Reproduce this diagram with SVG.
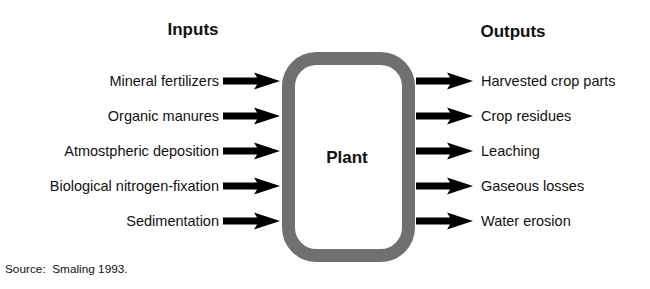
<svg xmlns="http://www.w3.org/2000/svg" xmlns:xlink="http://www.w3.org/1999/xlink" width="650" height="289" viewBox="0 0 650 289">
<style>
.lbl{font-family:"Liberation Sans",Arial,sans-serif;font-size:14.5px;fill:#111}
.in{text-anchor:end}
.ttl{font-family:"Liberation Sans",Arial,sans-serif;font-size:17px;font-weight:bold;fill:#111;text-anchor:middle}
.src{font-family:"Liberation Sans",Arial,sans-serif;font-size:11.8px;fill:#111}
.arr{fill:#000}
</style>
<defs>
<path id="arr" d="M0,-3.5 H34 L31,-8.5 L57,0 L31,8.5 L34,3.5 H0 Z"/>
</defs>
<rect width="650" height="289" fill="#fff"/>
<text class="ttl" x="193" y="35">Inputs</text>
<text class="ttl" x="513" y="37">Outputs</text>
<g id="plant">
<rect x="288.5" y="58.5" width="120" height="197" rx="28" ry="28" fill="none" stroke="#707070" stroke-width="13"/>
<text class="ttl" x="347" y="163">Plant</text>
</g>
<g id="inputs">
<text class="lbl in" x="219" y="86">Mineral fertilizers</text>
<text class="lbl in" x="219" y="121">Organic manures</text>
<text class="lbl in" x="219" y="156">Atmostpheric deposition</text>
<text class="lbl in" x="219" y="191">Biological nitrogen-fixation</text>
<text class="lbl in" x="219" y="226">Sedimentation</text>
</g>
<g id="outputs">
<text class="lbl" x="481" y="86">Harvested crop parts</text>
<text class="lbl" x="481" y="121">Crop residues</text>
<text class="lbl" x="481" y="156">Leaching</text>
<text class="lbl" x="481" y="191">Gaseous losses</text>
<text class="lbl" x="481" y="226">Water erosion</text>
</g>
<g id="connectors" class="arr">
<use xlink:href="#arr" x="223" y="81"/>
<use xlink:href="#arr" x="223" y="116"/>
<use xlink:href="#arr" x="223" y="151"/>
<use xlink:href="#arr" x="223" y="186"/>
<use xlink:href="#arr" x="223" y="221"/>
<use xlink:href="#arr" x="416" y="81"/>
<use xlink:href="#arr" x="416" y="116"/>
<use xlink:href="#arr" x="416" y="151"/>
<use xlink:href="#arr" x="416" y="186"/>
<use xlink:href="#arr" x="416" y="221"/>
</g>
<text class="src" x="5" y="273" xml:space="preserve">Source:  Smaling 1993.</text>
</svg>
